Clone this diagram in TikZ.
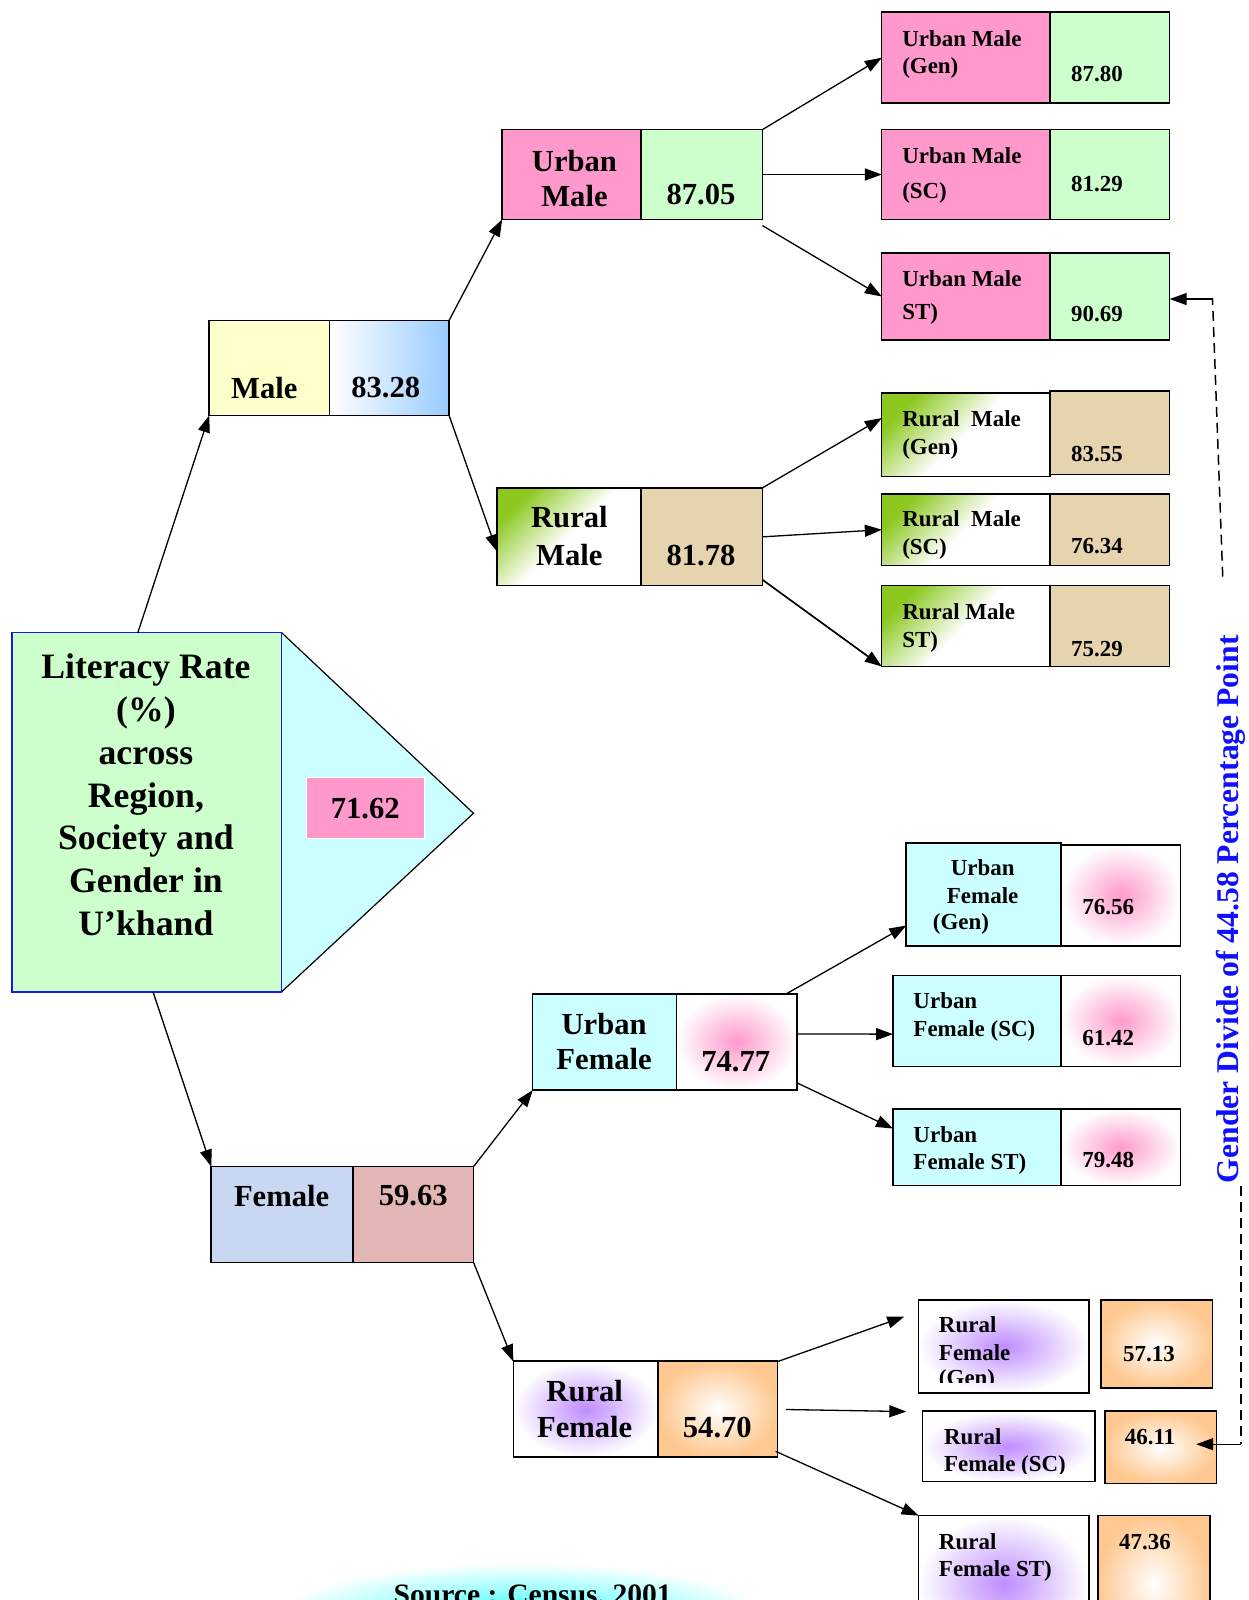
\documentclass[tikz,border=0pt]{standalone}
\usepackage{fontspec}
\setmainfont{Liberation Serif}
\usetikzlibrary{arrows.meta,calc}
\definecolor{pinkM}{HTML}{FF99CC}
\definecolor{greenM}{HTML}{CCFFCC}
\definecolor{yellowM}{HTML}{FFFFCC}
\definecolor{cyanF}{HTML}{CCFFFF}
\definecolor{blueM}{HTML}{99CCFF}
\definecolor{tanR}{HTML}{E6D4AE}
\definecolor{femLc}{HTML}{C9D8F2}
\definecolor{femVc}{HTML}{E3B6B6}
\definecolor{greenR}{HTML}{8CC820}
\definecolor{violetR}{HTML}{BE8CFF}
\definecolor{peachR}{HTML}{FFC890}
\definecolor{blueT}{HTML}{1010FF}
\definecolor{blueB}{HTML}{1A1AE6}
\newcommand\mkbox[6]{\node[box,#2,minimum width={(#5)-(#3)},minimum height={(#6)-(#4)}] (#1) at (#3,#4) {};}
\begin{document}
\begin{tikzpicture}[x=1pt,y=-1pt,scale=1.0204,transform shape,
  box/.style={draw=black,line width=1.5pt,inner sep=0pt,outer sep=0pt,anchor=north west},
  t35/.style={font={\fontsize{35}{42}\selectfont\bfseries},align=center,inner sep=0pt,anchor=north},
  t30/.style={font={\fontsize{30}{34}\selectfont\bfseries},align=center,inner sep=0pt,anchor=north},
  v30/.style={font={\fontsize{30}{34}\selectfont\bfseries},inner sep=0pt},
  t23/.style={font={\fontsize{22.5}{27}\selectfont\bfseries},align=left,inner sep=0pt,anchor=north west},
  v23/.style={font={\fontsize{22.5}{27}\selectfont\bfseries},inner sep=0pt},
  arr/.style={-{Triangle[length=17pt,width=12pt]},line width=1.3pt},
  dsh/.style={dash pattern=on 10pt off 6pt,line width=1.5pt},
  rmlab/.style={top color=greenR,bottom color=white,middle color=white,shading angle=45},
  ufval/.style={inner color=pinkM,outer color=white},
  rflab/.style={inner color=violetR,outer color=white},
  rfval/.style={inner color=white,outer color=peachR}]
\useasboundingbox (0,0) rectangle (1223.04,1568);
% source glow
\shade[inner color=cyan!75,outer color=white] (512,1582) ellipse [x radius=240pt,y radius=50pt];
\node[font={\fontsize{29}{34}\selectfont\bfseries},inner sep=0pt,anchor=north] (src) at (522,1553) {Source : Census, 2001};
% main box and pentagon
\fill[cyanF] (276,620) -- (464,797) -- (276,972) -- cycle;
\draw[line width=1.2pt] (276,620) -- (464,797) -- (276,972);
\node[box,draw=blueB,line width=1.5pt,fill=greenM,minimum width=264,minimum height=352] (main) at (12,620) {};
\node[t35] (mainT) at (143,640.5) {Literacy Rate\\(\%)\\across\\Region,\\Society and\\Gender in\\U’khand};
\node[fill=pinkM,draw=white,line width=1pt,minimum width=116,minimum height=60,inner sep=0pt,font={\fontsize{30}{34}\selectfont\bfseries}] (tot) at (358,792) {71.62};
% level 1
\mkbox{maleL}{fill=yellowM}{205}{314}{323}{407}
\mkbox{maleV}{left color=white,right color=blueM}{323}{314}{440}{407}
\mkbox{femL}{fill=femLc}{207}{1143}{346}{1237}
\mkbox{femV}{fill=femVc}{346}{1143}{464}{1237}
\node[v30] (maleT) at (259,380) {Male};
\node[v30] (maleN) at (378,380) {83.28};
\node[v30] (femT) at (276,1172) {Female};
\node[v30] (femN) at (405,1172) {59.63};
% level 2
\mkbox{umL}{fill=pinkM}{492}{127}{628}{215}
\mkbox{umV}{fill=greenM}{628}{127}{747}{215}
\mkbox{rmL}{rmlab}{487}{478}{628}{574}
\mkbox{rmV}{fill=tanR}{628}{478}{747}{574}
\mkbox{ufL}{fill=cyanF}{522}{974}{663}{1068}
\mkbox{ufV}{ufval}{663}{974}{781}{1068}
\mkbox{rfL}{rflab}{503}{1334}{645}{1428}
\mkbox{rfV}{rfval}{645}{1334}{762}{1428}
\node[t30] (umT) at (563,147) {Urban\\Male};
\node[v30] (umN) at (687,191) {87.05};
\node[t30] (rmT) at (558,496) {Rural\\[3pt]Male};
\node[v30] (rmN) at (687,544) {81.78};
\node[t30] (ufT) at (592,993) {Urban\\Female};
\node[v30] (ufN) at (721,1040) {74.77};
\node[t30] (rfT) at (573,1352) {Rural\\[2pt]Female};
\node[v30] (rfN) at (703,1399) {54.70};
% level 3 urban male
\mkbox{umgL}{fill=pinkM}{864}{12}{1029}{101}
\mkbox{umgV}{fill=greenM}{1029}{12}{1146}{101}
\mkbox{umsL}{fill=pinkM}{864}{127}{1029}{215}
\mkbox{umsV}{fill=greenM}{1029}{127}{1146}{215}
\mkbox{umtL}{fill=pinkM}{864}{248}{1029}{333}
\mkbox{umtV}{fill=greenM}{1029}{248}{1146}{333}
\node[t23] (umgT) at (884,29.5) {Urban Male\\(Gen)};
\node[t23] (umsT) at (884,144.5) {Urban Male\\[7pt](SC)};
\node[t23] (umtT) at (884,264.5) {Urban Male\\[6pt]ST)};
\node[v23] (umgN) at (1075,73) {87.80};
\node[v23] (umsN) at (1075,180) {81.29};
\node[v23] (umtN) at (1075,308) {90.69};
% level 3 rural male
\mkbox{rmgL}{rmlab}{864}{385}{1029}{467}
\mkbox{rmgV}{fill=tanR}{1029}{383}{1146}{465}
\mkbox{rmsL}{rmlab}{864}{484}{1029}{554}
\mkbox{rmsV}{fill=tanR}{1029}{484}{1146}{554}
\mkbox{rmtL}{rmlab}{864}{574}{1029}{653}
\mkbox{rmtV}{fill=tanR}{1029}{574}{1146}{653}
\node[t23] (rmgT) at (884,402.5) {Rural~~Male\\(Gen)};
\node[t23] (rmsT) at (884,500.5) {Rural~~Male\\(SC)};
\node[t23] (rmtT) at (884,591.5) {Rural Male\\ST)};
\node[v23] (rmgN) at (1075,445) {83.55};
\node[v23] (rmsN) at (1075,535) {76.34};
\node[v23] (rmtN) at (1075,636) {75.29};
% level 3 urban female
\mkbox{ufgL}{fill=cyanF}{888}{826}{1040}{927}
\mkbox{ufgV}{ufval}{1040}{828}{1157}{927}
\mkbox{ufsL}{fill=cyanF}{875}{956}{1040}{1045}
\mkbox{ufsV}{ufval}{1040}{956}{1157}{1045}
\mkbox{uftL}{fill=cyanF}{875}{1087}{1040}{1162}
\mkbox{uftV}{ufval}{1040}{1087}{1157}{1162}
\node[t23,align=center,anchor=north] (ufgT) at (963,842.5) {Urban\\Female};
\node[t23] (ufgT2) at (914,895.5) {(Gen)};
\node[t23] (ufsT) at (895,972.5) {Urban\\Female (SC)};
\node[t23] (uftT) at (895,1103.5) {Urban\\Female ST)};
\node[v23] (ufgN) at (1086,889) {76.56};
\node[v23] (ufsN) at (1086,1017) {61.42};
\node[v23] (uftN) at (1086,1137) {79.48};
% level 3 rural female
\mkbox{rfgL}{rflab}{900}{1274}{1067}{1365}
\mkbox{rfgV}{rfval}{1079}{1274}{1188}{1360}
\mkbox{rfsL}{rflab}{904}{1383}{1073}{1452}
\mkbox{rfsV}{rfval}{1083}{1383}{1192}{1454}
\mkbox{rftL}{rflab}{900}{1485}{1067}{1620}
\mkbox{rftV}{rfval}{1076}{1485}{1186}{1620}
\begin{scope}
\clip (900,1274) rectangle (1067,1355);
\node[t23] (rfgT) at (920,1290.5) {Rural\\Female\\[-3pt](Gen)};
\end{scope}
\begin{scope}
\clip (904,1383) rectangle (1073,1444);
\node[t23] (rfsT) at (925,1399.5) {Rural\\Female (SC)};
\end{scope}
\node[t23] (rftT) at (920,1502.5) {Rural\\Female ST)};
\node[v23] (rfgN) at (1126,1327) {57.13};
\node[v23] (rfsN) at (1127,1408) {46.11};
\node[v23] (rftN) at (1122,1511) {47.36};
% vertical label
\node[font={\fontsize{31}{36}\selectfont\bfseries},text=blueT,rotate=90,inner sep=0pt] (gap) at (1206,891) {Gender Divide of 44.58 Percentage Point};
% coordinates
\coordinate (trfg) at (886,1290);
\coordinate (trfs) at (888,1383);
\coordinate (d1) at (1198,565);
\coordinate (d2) at (1188,293);
\coordinate (d3) at (1216,1162);
\coordinate (d4) at (1216,1415);
\coordinate (t46) at (1172,1415);
% arrows
\draw[arr] ($(main.north)+(-9,0)$) -- (maleL.south west);
\draw[arr] ($(main.south)+(6,0)$) -- (femL.north west);
\draw[arr] (maleV.north east) -- (umL.south west);
\draw[arr] (maleV.south east) -- ($(rmL.west)!0.3!(rmL.south west)$);
\draw[arr] (umV.north east) -- (umgL.west);
\draw[arr,line width=1.9pt] (umV.east) -- (umsL.west);
\draw[arr] ($(umV.south east)+(0,6)$) -- (umtL.west);
\draw[arr] (rmV.north east) -- ($(rmgL.west)!0.4!(rmgL.north west)$);
\draw[arr] (rmV.east) -- (rmsL.west);
\draw[arr,line width=1.7pt] ($(rmV.south east)+(0,-6)$) -- (rmtL.south west);
\draw[arr] (femV.north east) -- (ufL.south west);
\draw[arr] (femV.south east) -- (rfL.north west);
\draw[arr] ($(ufV.north east)+(-11,0)$) -- ($(ufgL.south west)!0.2!(ufgL.north west)$);
\draw[arr] ($(ufV.east)!0.17!(ufV.north east)$) coordinate (sufs) -- (sufs -| ufsL.west);
\draw[arr] ($(ufV.south east)+(0,-7)$) -- ($(uftL.west)!0.5!(uftL.north west)$);
\draw[arr] (rfV.north east) -- (trfg);
\draw[arr] ($(rfV.east)+(8,0)$) -- (trfs);
\draw[arr] ($(rfV.south east)+(-2,-6)$) -- (rftL.north west);
% gender divide connector
\draw[dsh] (d1) -- (d2);
\draw[arr] (d2) -- (d2 -| umtV.east);
\draw[dsh] (d3) -- (d4);
\draw[arr] (d4) -- (t46);
\end{tikzpicture}
\end{document}
